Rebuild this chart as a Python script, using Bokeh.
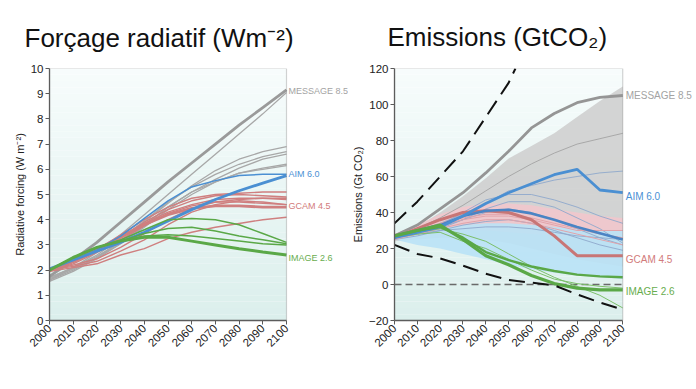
import numpy as np
from bokeh.plotting import figure
from bokeh.layouts import row, column
from bokeh.models import FixedTicker, Range1d, BoxAnnotation
from bokeh.core.properties import value
from bokeh.embed import file_html
from bokeh.resources import INLINE

years = [2000, 2010, 2020, 2030, 2040, 2050, 2060, 2070, 2080, 2090, 2100]

# ---------- Radiative forcing (W m-2) ----------
rf_gray_thick = [1.75, 2.4, 3.1, 3.9, 4.7, 5.5, 6.25, 7.0, 7.75, 8.45, 9.15]
rf_gray_thin = [
    [1.6, 2.1, 2.7, 3.4, 4.2, 5.0, 5.8, 6.6, 7.4, 8.2, 9.05],
    [1.6, 2.0, 2.5, 3.15, 3.9, 4.65, 5.35, 5.95, 6.4, 6.7, 6.9],
    [1.7, 2.1, 2.6, 3.25, 3.95, 4.7, 5.3, 5.8, 6.2, 6.5, 6.7],
    [1.55, 1.95, 2.45, 3.05, 3.75, 4.5, 5.1, 5.6, 6.05, 6.4, 6.6],
    [1.65, 2.05, 2.5, 3.05, 3.7, 4.4, 5.0, 5.5, 5.85, 6.05, 6.2],
    [1.7, 2.1, 2.55, 3.1, 3.8, 4.5, 5.1, 5.5, 5.85, 6.0, 6.15],
]
rf_blue_thick = [2.05, 2.4, 2.75, 3.1, 3.5, 3.95, 4.4, 4.8, 5.15, 5.45, 5.75]
rf_blue_thin = [2.05, 2.4, 2.8, 3.35, 4.05, 4.75, 5.3, 5.55, 5.75, 5.8, 5.8]
rf_red_thick = [2.0, 2.35, 2.8, 3.3, 3.8, 4.2, 4.45, 4.55, 4.55, 4.5, 4.5]
rf_red_thin = [
    [2.0, 2.35, 2.8, 3.4, 4.0, 4.5, 4.85, 5.0, 5.05, 5.1, 5.1],
    [1.95, 2.3, 2.75, 3.3, 3.9, 4.4, 4.75, 4.95, 5.0, 4.95, 4.9],
    [2.0, 2.4, 2.85, 3.35, 3.85, 4.3, 4.6, 4.8, 4.85, 4.85, 4.8],
    [1.95, 2.25, 2.7, 3.2, 3.75, 4.25, 4.55, 4.7, 4.7, 4.65, 4.6],
    [2.0, 2.2, 2.45, 2.9, 3.45, 4.0, 4.45, 4.7, 4.8, 4.85, 4.85],
    [1.95, 2.1, 2.25, 2.6, 2.85, 3.25, 3.5, 3.7, 3.85, 4.0, 4.1],
    [2.0, 2.15, 2.35, 2.75, 3.2, 3.8, 4.3, 4.6, 4.75, 4.7, 4.6],
]
rf_green_thick = [2.0, 2.5, 2.9, 3.15, 3.3, 3.3, 3.15, 3.0, 2.85, 2.72, 2.6]
rf_green_thin = [
    [2.0, 2.5, 2.9, 3.2, 3.6, 4.0, 4.05, 4.0, 3.8, 3.45, 3.1],
    [2.0, 2.5, 2.9, 3.15, 3.45, 3.65, 3.7, 3.55, 3.35, 3.2, 3.05],
    [2.0, 2.5, 2.9, 3.15, 3.35, 3.4, 3.35, 3.25, 3.15, 3.05, 3.0],
]

# ---------- Emissions (Gt CO2) ----------
em_dash_up_years = [2000, 2010, 2020, 2030, 2040, 2050, 2053]
em_dash_up = [34, 46, 60, 74, 93, 112, 120]
em_dash_low = [22, 17, 14.5, 10.5, 6, 2.5, 1, -0.5, -5.5, -10, -14]

em_gray_band_hi = [27, 32, 40, 49, 59, 70, 77, 84, 93, 102, 110]
em_gray_band_lo = [24, 25, 26, 26, 25, 23, 20, 17, 14, 12, 10]
em_pink_band_hi = [28, 33, 39, 43, 45, 45, 44, 42, 40, 38, 37]
em_pink_band_lo = [25, 27, 29, 30, 30, 29, 28, 27, 27, 27, 27]
em_blue_band_hi = [27, 29, 31, 33, 34, 34, 33, 32, 31, 30, 30]
em_blue_band_lo = [25, 22, 20, 17, 14, 11, 8.5, 6.5, 5, 4, 3]

em_gray_thick = [27, 33, 42, 51, 62, 74, 87, 95, 101, 104, 105]
em_gray_thin = [27, 31, 37, 44, 52, 60, 67, 73, 78, 81, 84]
em_steel_thin = [
    [27, 30, 34, 39, 45, 52, 55, 58, 60, 62, 63],
    [26, 29, 33, 40, 47, 50, 50, 47, 43, 38, 34],
    [26, 28, 31, 36, 42, 46, 46, 43, 37, 31, 23],
    [27, 29, 32, 36, 40, 42, 40, 36, 31, 26, 22],
    [25, 27, 30, 33, 35, 36, 34, 30, 26, 22, 19],
    [26, 28, 30, 31, 32, 32, 31, 29, 27, 26, 25],
]
em_pink_thin = [
    [26, 30, 34, 37, 39, 39, 37, 34, 31, 28, 26],
    [25, 28, 31, 34, 36, 36, 34, 31, 28, 25, 22],
    [26, 29, 33, 36, 38, 38, 36, 33, 30, 30, 30],
]
em_blue_thick1 = [26, 29, 32, 38, 45, 51, 56, 61, 64, 52.5, 51]
em_blue_thick2 = [27, 30, 33, 38, 41, 41.5, 39.5, 36, 32, 28.5, 25]
em_red_thick = [26, 31, 36, 40, 41, 40, 36, 27, 16, 16, 16]
em_green_thick = [27, 30, 33, 25, 16, 11, 5, 0.5, -2, -3, -3]
em_green_mid = [27, 30, 32, 26, 18, 13.5, 10, 7.5, 5.5, 4.5, 4]
em_green_thin = [
    [27, 29, 31, 28, 24, 17, 10, 4, -1, -6, -13],
    [26, 28, 29, 24, 20, 14, 8, 3, 0.5, -1, -2],
]

scenario_labels = ["MESSAGE 8.5", "AIM 6.0", "GCAM 4.5", "IMAGE 2.6"]
label_colors = ["#a3a3a3", "#4a90d4", "#d27b7b", "#68ad4e"]
rf_label_y = [9.1, 5.8, 4.55, 2.5]
em_label_y = [105, 49, 14, -4]

titles = ["Forçage radiatif (Wm⁻²)", "Emissions (GtCO₂)"]

FONT = "Liberation Sans"
GRAY = "#a8a8a8"
BLUE = "#4a8fd2"
RED = "#cf7f7f"
GREEN = "#5aa847"
X0, X1 = 2000, 2100


def gradient(p, y0, y1, n=40):
    edges = np.linspace(y0, y1, n + 1)
    top = np.array([0xf7, 0xfc, 0xfc])
    bot = np.array([0xdb, 0xef, 0xec])
    for i in range(n):
        t = (i + 0.5) / n
        c = bot + (top - bot) * t
        col = "#%02x%02x%02x" % tuple(int(round(v)) for v in c)
        p.quad(left=X0, right=X1, bottom=edges[i], top=edges[i + 1],
               fill_color=col, line_color=None)


def panel(width, height, plot_w, left, top, bottom, y0, y1, yticks, ylabel, overrides=None):
    # frame extends to the right of 2100 so that the scenario names fit
    extra = width - left - plot_w
    xr = Range1d(X0, X1 + (X1 - X0) * extra / plot_w)
    p = figure(width=width, height=height, x_range=xr, y_range=Range1d(y0, y1),
               output_backend="svg", toolbar_location=None,
               min_border_left=left, min_border_right=0, min_border_top=top,
               min_border_bottom=bottom)
    p.xgrid.visible = False
    p.ygrid.visible = False
    p.outline_line_color = None
    for ax in (p.xaxis[0], p.yaxis[0]):
        ax.axis_line_color = "#5a5a5a"
        ax.axis_line_width = 1.3
        ax.major_tick_line_color = "#5a5a5a"
        ax.major_tick_out = 4
        ax.major_tick_in = 0
        ax.minor_tick_line_color = None
        ax.major_label_text_font = FONT
        ax.major_label_text_font_size = "11.5px"
        ax.major_label_text_color = "#222222"
        ax.axis_label_text_font = FONT
        ax.axis_label_text_font_size = "11px"
        ax.axis_label_text_font_style = "normal"
        ax.axis_label_text_color = "#222222"
    p.xaxis.ticker = FixedTicker(ticks=years)
    p.xaxis.bounds = (X0, X1)
    p.xaxis.major_label_orientation = np.pi / 4
    p.xaxis.major_label_standoff = 2
    p.yaxis.ticker = FixedTicker(ticks=yticks)
    p.yaxis.axis_label = ylabel
    p.yaxis.major_label_standoff = 2
    p.yaxis.axis_label_standoff = 2
    if overrides:
        p.yaxis.major_label_overrides = overrides
    gradient(p, y0, y1)
    p.add_layout(BoxAnnotation(left=X0, right=X1, bottom=y0, top=y1,
                               fill_alpha=0, line_color="#6e6e6e", line_width=1.2))
    return p


# ---------------- titles ----------------
pt = figure(width=696, height=58, x_range=(0, 696), y_range=(0, 58),
            output_backend="svg", toolbar_location=None,
            x_axis_type=None, y_axis_type=None, title=None,
            min_border_left=0, min_border_right=0, min_border_top=0, min_border_bottom=0)
pt.grid.visible = False
pt.outline_line_color = None
pt.text(x=[24, 387], y=[21, 22], text=titles, text_color="#111111",
        text_font=value(FONT), text_font_size="26px", text_baseline="middle")

H = 331

# ---------------- left panel ----------------
p1 = panel(348, H, 237, 49, 9, 69, 0, 10, list(range(0, 11)), "Radiative forcing (W m⁻²)")

for ys in rf_gray_thin:
    p1.line(years, ys, line_color=GRAY, line_width=1.3)
p1.line(years, rf_gray_thick, line_color="#9a9a9a", line_width=2.8)
for ys in rf_red_thin:
    p1.line(years, ys, line_color=RED, line_width=1.4)
p1.line(years, rf_red_thick, line_color=RED, line_width=2.8)
p1.line(years, rf_blue_thin, line_color=BLUE, line_width=1.5)
p1.line(years, rf_blue_thick, line_color=BLUE, line_width=2.8)
for ys in rf_green_thin:
    p1.line(years, ys, line_color=GREEN, line_width=1.5)
p1.line(years, rf_green_thick, line_color=GREEN, line_width=3)

p1.text(x=[X1] * 4, y=rf_label_y, text=scenario_labels, text_color=label_colors,
        x_offset=2, text_font=value(FONT), text_font_size="9px", text_baseline="middle")

# ---------------- right panel ----------------
p2 = panel(348, H, 232, 41, 10, 60, -20, 120, list(range(-20, 121, 20)),
           "Emissions (Gt CO₂)", {-20: "−20"})

p2.varea(x=years, y1=em_gray_band_lo, y2=em_gray_band_hi, fill_color="#cfcfcf", fill_alpha=0.9)
p2.varea(x=years, y1=em_pink_band_lo, y2=em_pink_band_hi, fill_color="#f3c6cb", fill_alpha=0.85)
p2.varea(x=years, y1=em_blue_band_lo, y2=em_blue_band_hi, fill_color="#b9e2f6", fill_alpha=0.9)

p2.line(years, [0] * len(years), line_color="#6a6a6a", line_width=1.6, line_dash="7 4")

p2.line(years, em_gray_thin, line_color="#a8a8a8", line_width=1)
for ys in em_steel_thin:
    p2.line(years, ys, line_color="#8fa9cc", line_width=1, line_alpha=0.9)
for ys in em_pink_thin:
    p2.line(years, ys, line_color="#e1a3aa", line_width=1)
for ys in em_green_thin:
    p2.line(years, ys, line_color="#7cbf6a", line_width=1)

p2.line(years, em_gray_thick, line_color="#959595", line_width=2.8)
p2.line(years, em_red_thick, line_color="#c87676", line_width=3)
p2.line(years, em_blue_thick2, line_color="#4a84c4", line_width=2.6)
p2.line(years, em_blue_thick1, line_color="#4a8fd2", line_width=2.8)
p2.line(years, em_green_mid, line_color=GREEN, line_width=2.4)
p2.line(years, em_green_thick, line_color=GREEN, line_width=3.2)

p2.line(em_dash_up_years, em_dash_up, line_color="#111111", line_width=2, line_dash="16 8")
p2.line(years, em_dash_low, line_color="#111111", line_width=2, line_dash="16 8")

p2.text(x=[X1] * 4, y=em_label_y, text=scenario_labels, text_color=label_colors,
        x_offset=3, text_font=value(FONT), text_font_size="10px", text_baseline="middle")

layout = column(pt, row(p1, p2))
open("out.html", "w").write(file_html(layout, INLINE))
